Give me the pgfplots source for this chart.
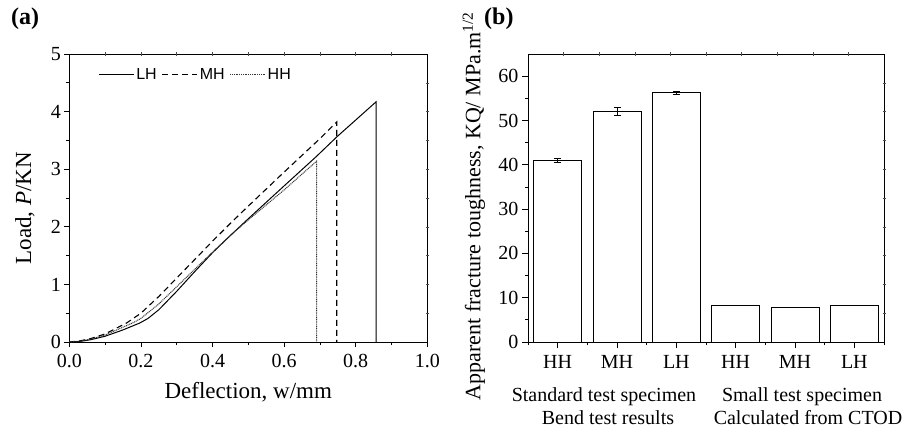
\documentclass[border=0pt]{standalone}
\usepackage{fontspec}
\setmainfont{Liberation Serif}
\newfontfamily\legfont{Liberation Sans}
\usepackage{pgfplots}
\pgfplotsset{compat=1.18}

\pgfplotstableread{
x y e
1 41.0 0.5
2 52.0 0.9
3 56.2 0.4
4 8.3 0
5 7.8 0
6 8.3 0
}\bardata

\begin{document}
\begin{tikzpicture}[x=1pt,y=1pt]
\path[use as bounding box] (0pt,0pt) rectangle (913pt,432pt);
\pgfplotsset{
  common/.style={scale only axis, height=288pt,
    axis line style={line width=0.8pt, black},
    every tick/.style={black,line width=0.7pt},
    tick align=outside, major tick length=5pt, minor tick length=3pt,
    tick label style={font=\fontsize{20}{22}\selectfont},
    xticklabel style={yshift=-4pt},
    label style={font=\fontsize{23}{25}\selectfont},
    /pgf/number format/assume math mode=true,
    xtick pos=left, ytick pos=left},
  mirror/.style={scale only axis, height=288pt,
    xmin=0,xmax=1,ymin=0,ymax=1,
    xtick={0.1,0.2,0.3,0.4,0.5,0.6,0.7,0.8,0.9},
    ytick={0.1,0.2,0.3,0.4,0.5,0.6,0.7,0.8,0.9},
    xticklabels={}, yticklabels={},
    xtick pos=right, ytick pos=right, tick align=center,
    major tick length=3pt, axis line style={draw=none},
    every tick/.style={black!70, line width=0.6pt}}
}
% ---------- panel (a) ----------
\begin{axis}[common, at={(69.3pt,90pt)}, anchor=south west, width=358pt,
  xmin=0, xmax=1, ymin=0, ymax=5,
  xtick={0,0.2,0.4,0.6,0.8,1.0}, ytick={0,1,2,3,4,5},
  minor x tick num=1, minor y tick num=1,
  xticklabel style={/pgf/number format/.cd,fixed,fixed zerofill,precision=1},
  xlabel={Deflection, w/mm}, ylabel={Load, \textit{P}/KN},
  xlabel style={at={(axis description cs:0.5,-0.174)},anchor=center},
  ylabel style={at={(axis description cs:-0.124,0.465)},anchor=center},
  legend style={draw=none, fill=none, at={(0.072,0.965)}, anchor=north west,
    legend columns=3, font=\legfont\fontsize{16}{17}\selectfont,
    /tikz/every even column/.append style={column sep=3pt}},
  legend image code/.code={\draw[#1] (0pt,0pt) -- (35pt,0pt);},
]
\addplot[black, line width=1pt] coordinates {
(0,0) (0.03,0.01) (0.06,0.04) (0.1,0.1) (0.15,0.21) (0.197,0.33) (0.22,0.41)
(0.25,0.56) (0.3,0.88) (0.35,1.22) (0.4,1.55) (0.45,1.85) (0.5,2.14) (0.6,2.71) (0.69,3.22)
(0.747,3.56) (0.857,4.17) (0.857,0)};
\addlegendentry{LH}
\addplot[black, line width=1.1pt, dash pattern=on 6pt off 4pt] coordinates {
(0,0) (0.03,0.02) (0.06,0.06) (0.1,0.14) (0.16,0.33) (0.2,0.5) (0.25,0.79)
(0.3,1.11) (0.35,1.43) (0.4,1.75) (0.45,2.06) (0.5,2.36) (0.6,2.95) (0.7,3.53) (0.747,3.82) (0.747,0)};
\addlegendentry{MH}
\addplot[black!80, line width=1pt, dash pattern=on 1pt off 0.8pt] coordinates {
(0,0) (0.03,0.015) (0.06,0.05) (0.1,0.12) (0.18,0.34) (0.2,0.41) (0.25,0.66)
(0.3,0.96) (0.35,1.26) (0.4,1.56) (0.45,1.85) (0.5,2.12) (0.6,2.64) (0.691,3.14) (0.691,0)};
\addlegendentry{HH}
\end{axis}
\begin{axis}[mirror, at={(69.3pt,90pt)}, anchor=south west, width=358pt]
\end{axis}
% ---------- panel (b) ----------
\begin{axis}[common, at={(528pt,90pt)}, anchor=south west, width=356pt,
  xmin=0.5, xmax=6.5, ymin=0, ymax=65,
  ytick={0,10,20,30,40,50,60}, minor y tick num=1,
  xtick={1,2,3,4,5,6}, xticklabels={HH,MH,LH,HH,MH,LH},
  minor xtick={0.5,1.5,2.5,3.5,4.5,5.5,6.5},
  major tick length=6pt,
  ylabel={Apparent fracture toughness, KQ/ MPa.m\textsuperscript{1/2}},
  ylabel style={at={(axis description cs:-0.152,0.472)},anchor=center,
    font=\fontsize{22}{24}\selectfont},
]
\addplot[ybar, bar width=48pt, draw=black, fill=white, line width=1pt,
  error bars/.cd, y dir=both, y explicit,
  error bar style={line width=0.8pt, black},
  error mark options={rotate=90, mark size=3.5pt, line width=0.8pt, black}]
  table[x=x, y=y, y error=e] {\bardata};
\end{axis}
\begin{axis}[mirror, at={(528pt,90pt)}, anchor=south west, width=356pt]
\end{axis}
% ---------- annotations ----------
\node[anchor=west, font=\fontsize{24}{26}\selectfont\bfseries, inner sep=0pt] at (11pt,413pt) {(a)};
\node[anchor=west, font=\fontsize{24}{26}\selectfont\bfseries, inner sep=0pt] at (484pt,413pt) {(b)};
\node[font=\fontsize{20}{22}\selectfont] at (604pt,35pt) {Standard test specimen};
\node[font=\fontsize{20}{22}\selectfont] at (608pt,14pt) {Bend test results};
\node[font=\fontsize{20}{22}\selectfont] at (802pt,35pt) {Small test specimen};
\node[font=\fontsize{20}{22}\selectfont] at (808pt,14pt) {Calculated from CTOD};
\end{tikzpicture}
\end{document}
